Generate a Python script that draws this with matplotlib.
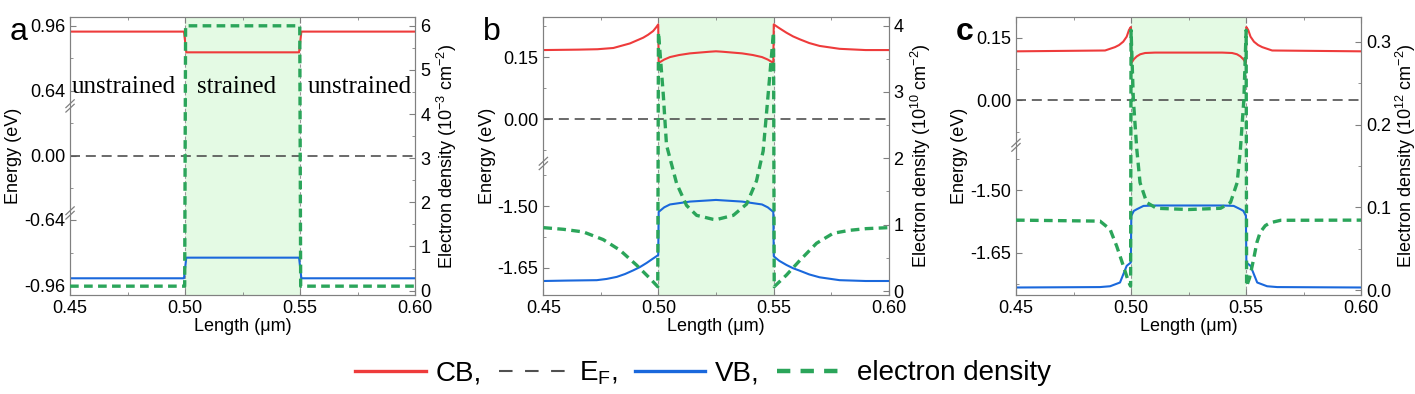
import numpy as np
import matplotlib.pyplot as plt
from matplotlib.lines import Line2D

plt.rcParams['font.family'] = 'Liberation Sans'
plt.rcParams['mathtext.default'] = 'regular'

# colours
col_cb = '#ee3b3b'
col_vb = '#1a68dc'
col_ef = '#505050'
col_n = '#2ba55a'
col_shade = '#e4fae4'
col_spine = '#808080'

# ---- panel a ----
a_x = [0.45, 0.4995, 0.5005, 0.5495, 0.5505, 0.60]
a_cb = [0.932, 0.932, 0.830, 0.830, 0.932, 0.932]
a_vb = [-0.923, -0.923, -0.823, -0.823, -0.923, -0.923]
a_xn = [0.45, 0.4998, 0.5002, 0.5498, 0.5502, 0.60]
a_n = [0.1, 0.1, 6.0, 6.0, 0.1, 0.1]

# ---- panel b ----
b_xcb = [0.45, 0.465, 0.4735, 0.4804, 0.4876, 0.4934, 0.4955, 0.4977, 0.499,
         0.4999, 0.5001, 0.5025, 0.505, 0.509, 0.5137, 0.5223, 0.525, 0.5277,
         0.5363, 0.541, 0.545, 0.5475, 0.5499, 0.5501, 0.5525, 0.5556, 0.5585,
         0.5614, 0.5655, 0.570, 0.5787, 0.59, 0.60]
b_cb = [0.167, 0.168, 0.169, 0.172, 0.183, 0.197, 0.204, 0.213, 0.222,
        0.229, 0.136, 0.144, 0.150, 0.155, 0.159, 0.163, 0.164, 0.163,
        0.159, 0.155, 0.150, 0.144, 0.136, 0.229, 0.220, 0.209, 0.200,
        0.193, 0.184, 0.177, 0.170, 0.167, 0.167]
b_xvb = [0.45, 0.46, 0.4732, 0.4775, 0.4819, 0.4855, 0.4891, 0.492, 0.4949,
         0.4975, 0.4999, 0.5001, 0.5025, 0.505, 0.5137, 0.5223, 0.525, 0.5277,
         0.5363, 0.545, 0.5475, 0.5499, 0.5501, 0.5525, 0.5556, 0.5585, 0.5614,
         0.5655, 0.570, 0.5787, 0.59, 0.60]
b_vb = [-1.682, -1.681, -1.680, -1.677, -1.672, -1.665, -1.656, -1.648, -1.638,
        -1.628, -1.619, -1.514, -1.503, -1.496, -1.489, -1.486, -1.485, -1.486,
        -1.489, -1.496, -1.503, -1.514, -1.622, -1.633, -1.643, -1.651, -1.657,
        -1.666, -1.673, -1.680, -1.682, -1.682]
b_xn = [0.45, 0.4587, 0.4674, 0.476, 0.4833, 0.4905, 0.4963, 0.4997, 0.5000,
        0.5021, 0.5035, 0.5079, 0.5122, 0.5166, 0.5238, 0.525, 0.5325, 0.5383,
        0.5426, 0.5455, 0.5475, 0.5500, 0.5503, 0.5556, 0.5614, 0.5687, 0.5759,
        0.5831, 0.5903, 0.60]
b_n = [0.955, 0.93, 0.89, 0.775, 0.615, 0.39, 0.19, 0.065, 3.9,
       2.96, 2.2, 1.62, 1.29, 1.14, 1.08, 1.075, 1.14, 1.31,
       1.66, 2.11, 2.9, 3.9, 0.065, 0.24, 0.46, 0.72, 0.87,
       0.915, 0.94, 0.955]

# ---- panel c ----
c_xcb = [0.45, 0.4887, 0.493, 0.4948, 0.4966, 0.4981, 0.4991, 0.4999,
         0.5001, 0.5012, 0.5025, 0.504, 0.5061, 0.5104, 0.525, 0.5396, 0.5439,
         0.546, 0.5475, 0.5488, 0.5499, 0.5501, 0.5509, 0.5519, 0.5534, 0.5552,
         0.557, 0.5613, 0.60]
c_cb = [0.117, 0.119, 0.127, 0.132, 0.140, 0.152, 0.168, 0.175,
        0.089, 0.098, 0.105, 0.110, 0.113, 0.114, 0.114, 0.114, 0.113,
        0.110, 0.105, 0.098, 0.089, 0.175, 0.168, 0.152, 0.140, 0.132,
        0.127, 0.119, 0.117]
c_xvb = [0.45, 0.4865, 0.4909, 0.4952, 0.4981, 0.4999, 0.5001, 0.5012, 0.5025,
         0.5054, 0.51, 0.525, 0.54, 0.5446, 0.5475, 0.5488, 0.5499, 0.5501,
         0.5519, 0.5548, 0.5591, 0.5635, 0.60]
c_vb = [-1.734, -1.733, -1.731, -1.722, -1.682, -1.674, -1.562, -1.550, -1.546,
        -1.538, -1.537, -1.537, -1.537, -1.538, -1.546, -1.550, -1.562, -1.674,
        -1.682, -1.722, -1.731, -1.733, -1.734]
c_xn = [0.45, 0.4865, 0.4909, 0.4938, 0.4967, 0.4988, 0.4998, 0.5000, 0.5010,
        0.5025, 0.5039, 0.5068, 0.5111, 0.525, 0.5389, 0.5432, 0.5461, 0.5475,
        0.5490, 0.5500, 0.5502, 0.5515, 0.5532, 0.5547, 0.5561, 0.5583, 0.5604,
        0.565, 0.60]
c_n = [0.0847, 0.0835, 0.0735, 0.053, 0.029, 0.011, 0.005, 0.314, 0.23,
       0.17, 0.13, 0.106, 0.099, 0.0975, 0.099, 0.106, 0.13, 0.17,
       0.23, 0.314, 0.005, 0.015, 0.037, 0.058, 0.07, 0.078, 0.0815,
       0.0845, 0.0847]

x_ticks = [0.45, 0.50, 0.55, 0.60]
x_minor = [0.475, 0.525, 0.575]
strain_region = (0.50, 0.55)


def broken_scale(e_k, u_k):
    e_k = np.asarray(e_k, float)
    u_k = np.asarray(u_k, float)

    def interp(v, xp, fp):
        v = np.asarray(v, float)
        out = np.interp(v, xp, fp)
        lo = fp[0] + (v - xp[0]) * (fp[1] - fp[0]) / (xp[1] - xp[0])
        hi = fp[-1] + (v - xp[-1]) * (fp[-1] - fp[-2]) / (xp[-1] - xp[-2])
        out = np.where(v < xp[0], lo, out)
        out = np.where(v > xp[-1], hi, out)
        return out
    return (lambda v: interp(v, e_k, u_k)), (lambda v: interp(v, u_k, e_k))


panels = [
    dict(label='a', bold=False, left=0.0495, rlab=1.058,
         cb=(a_x, a_cb), vb=(a_x, a_vb), n=(a_xn, a_n),
         knots_e=[-0.96, -0.64, 0.0, 0.64, 0.96],
         knots_px=[286, 220, 156, 91, 26],
         ylim=(-1.004, 1.004), yticks=[-0.96, -0.64, 0.0, 0.64, 0.96],
         yminor=[-0.80, -0.32, 0.32, 0.80], breaks=[0.295, 0.68],
         rlim=(-0.1, 6.2), rticks=[0, 1, 2, 3, 4, 5, 6],
         rminor=[0.5, 1.5, 2.5, 3.5, 4.5, 5.5], rfmt='%d', exp='-3'),
    dict(label='b', bold=False, left=0.384, rlab=1.06,
         cb=(b_xcb, b_cb), vb=(b_xvb, b_vb), n=(b_xn, b_n),
         knots_e=[-1.65, -1.50, -1.397, -0.108, 0.0, 0.15],
         knots_px=[267.7, 205.7, 163.05, 162.95, 118.3, 56],
         ylim=(-1.716, 0.247), yticks=[-1.65, -1.50, 0.0, 0.15],
         yminor=[-1.575, -1.425, -0.075, 0.075, 0.225], breaks=[0.473],
         rlim=(-0.06, 4.13), rticks=[0, 1, 2, 3, 4],
         rminor=[0.5, 1.5, 2.5, 3.5], rfmt='%d', exp='10'),
    dict(label='c', bold=True, left=0.718, rlab=1.094,
         cb=(c_xcb, c_cb), vb=(c_xvb, c_vb), n=(c_xn, c_n),
         knots_e=[-1.65, -1.50, -1.392, -0.107, 0.0, 0.15],
         knots_px=[253.3, 190.7, 145.75, 145.65, 100.7, 37.7],
         ylim=(-1.752, 0.199), yticks=[-1.65, -1.50, 0.0, 0.15],
         yminor=[-1.725, -1.575, -1.425, -0.075, 0.075], breaks=[0.539],
         rlim=(-0.0057, 0.33), rticks=[0.0, 0.1, 0.2, 0.3],
         rminor=[0.05, 0.15, 0.25], rfmt='%.1f', exp='12'),
]

fig = plt.figure(figsize=(14.15, 3.94), dpi=100)

tick_kw = dict(direction='in', color=col_spine, labelsize=13)

for p in panels:
    ax = fig.add_axes([p['left'], 0.2513, 0.2440, 0.7056])
    fwd, inv = broken_scale(p['knots_e'], [-v for v in p['knots_px']])
    ax.set_yscale('function', functions=(fwd, inv))
    ax.set_xlim(0.45, 0.60)
    ax.set_ylim(*p['ylim'])

    ax.axvspan(*strain_region, color=col_shade, lw=0, zorder=0)
    for xv in strain_region:
        ax.axvline(xv, color='#999999', lw=0.8, ls=(0, (3, 2)), zorder=1)
    ax.axhline(0.0, color=col_ef, lw=1.2, ls=(0, (6, 3.5)), zorder=2)
    ax.plot(*p['cb'], color=col_cb, lw=1.5, zorder=3)
    ax.plot(*p['vb'], color=col_vb, lw=1.5, zorder=3)

    ax.set_xticks(x_ticks)
    ax.set_xticks(x_minor, minor=True)
    ax.set_xticklabels(['%.2f' % v for v in x_ticks])
    ax.set_yticks(p['yticks'])
    ax.set_yticks(p['yminor'], minor=True)
    ax.set_yticklabels(['%.2f' % v for v in p['yticks']])
    ax.tick_params(which='both', top=True, right=False, **tick_kw)
    ax.tick_params(which='major', length=4)
    ax.tick_params(which='minor', length=2.5)
    for s in ax.spines.values():
        s.set_color(col_spine)
    ax.set_xlabel('Length (\u03bcm)', fontsize=13, labelpad=1)
    ax.set_ylabel('Energy (eV)', fontsize=13)
    ax.yaxis.set_label_coords(-0.138, 0.5)

    # axis break marks on left spine
    for yb in p['breaks']:
        ax.plot([-0.012, 0.012], [yb - 0.004, yb + 0.004], transform=ax.transAxes,
                color='white', lw=3, clip_on=False, zorder=10,
                solid_capstyle='butt')
        for dy in (-0.008, 0.008):
            ax.plot([-0.012, 0.012], [yb + dy - 0.014, yb + dy + 0.014],
                    transform=ax.transAxes, color=col_spine, lw=0.9,
                    clip_on=False, zorder=11)

    tw = ax.twinx()
    tw.set_ylim(*p['rlim'])
    tw.plot(*p['n'], color=col_n, lw=2.4, dashes=(2.6, 1.6), zorder=4)
    tw.set_yticks(p['rticks'])
    tw.set_yticks(p['rminor'], minor=True)
    tw.set_yticklabels([p['rfmt'] % v for v in p['rticks']])
    tw.tick_params(which='both', **tick_kw)
    tw.tick_params(which='major', length=4)
    tw.tick_params(which='minor', length=2.5)
    for s in tw.spines.values():
        s.set_color(col_spine)
    tw.set_ylabel('Electron density (10$^{%s}$ cm$^{-2}$)' % p['exp'],
                  fontsize=13)
    tw.yaxis.set_label_coords(p['rlab'], 0.5)

    ax.text(-0.174, 1.0, p['label'], transform=ax.transAxes, fontsize=23,
            fontweight='bold' if p['bold'] else 'normal', va='top', ha='left')

# region labels in panel a
ax_a = fig.axes[0]
for xt, txt in [(0.4735, 'unstrained'), (0.5222, 'strained'), (0.5757, 'unstrained')]:
    ax_a.text(xt, 0.728, txt, transform=ax_a.get_xaxis_transform(),
              family='Liberation Serif', fontsize=18, ha='center', va='baseline',
              zorder=12)

handles = [
    Line2D([], [], color=col_cb, lw=2.4),
    Line2D([], [], color=col_ef, lw=1.5, ls=(0, (6.5, 6))),
    Line2D([], [], color=col_vb, lw=2.4),
    Line2D([], [], color=col_n, lw=3.2, dashes=(3, 2.3)),
]
labels = ['CB,', 'E$_F$,', 'VB,', 'electron density']
fig.legend(handles, labels, loc='center', bbox_to_anchor=(0.497, 0.053), ncol=4,
           frameon=False, fontsize=20, handlelength=2.55, handletextpad=0.35,
           columnspacing=0.6, borderpad=0.2)

fig.savefig('out.png', dpi=100)
